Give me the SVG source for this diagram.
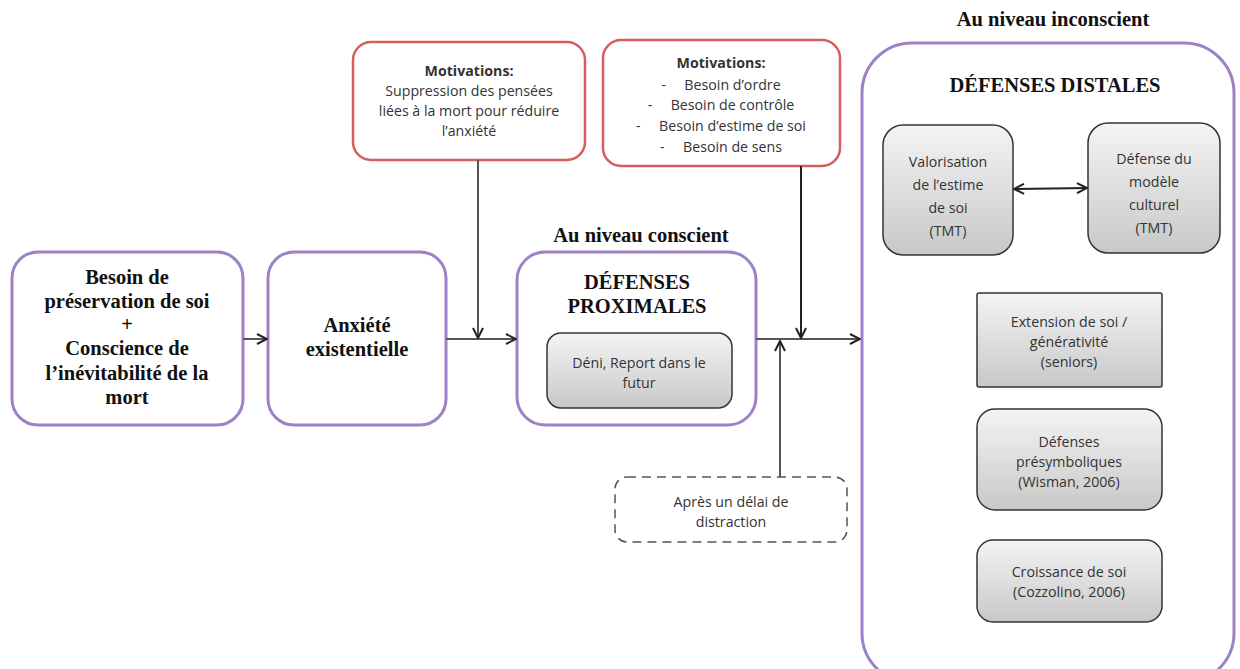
<svg xmlns="http://www.w3.org/2000/svg" width="1240" height="669" viewBox="0 0 1240 669">
<defs>
<linearGradient id="gray" x1="0" y1="0" x2="0" y2="1">
<stop offset="0" stop-color="#f4f4f4"/>
<stop offset="1" stop-color="#c8c8c8"/>
</linearGradient>
<marker id="arr" viewBox="0 0 12 12" refX="11" refY="6" markerWidth="12" markerHeight="12" markerUnits="userSpaceOnUse" orient="auto-start-reverse">
<path d="M1,1 L11,6 L1,11" fill="none" stroke="#222" stroke-width="2"/>
</marker>
<style>
.purple{fill:#fff;stroke:#9d82c6;stroke-width:3}
.red{fill:#fff;stroke:#d45f5c;stroke-width:2.5}
.grayb{fill:url(#gray);stroke:#333;stroke-width:1.5}
.dash{fill:#fff;stroke:#555;stroke-width:1.5;stroke-dasharray:9 6}
.serif{font-family:"Liberation Serif","Times New Roman",serif;font-weight:bold;fill:#111;text-anchor:middle;font-size:20.5px}
.sans{font-family:"Open Sans","Liberation Sans",Arial,sans-serif;fill:#333;text-anchor:middle;font-size:14.2px}
.line{fill:none;stroke:#555;stroke-width:2}
.dark{fill:none;stroke:#222;stroke-width:2}
</style>
</defs>
<rect width="1240" height="669" fill="#fff"/>

<g id="besoin">
<rect class="purple" x="12" y="252" width="231" height="173" rx="26"/>
<text class="serif" x="127" y="284">Besoin de</text>
<text class="serif" x="127" y="308">préservation de soi</text>
<text class="serif" x="127" y="331" font-weight="normal">+</text>
<text class="serif" x="127" y="355">Conscience de</text>
<text class="serif" x="127" y="380">l’inévitabilité de la</text>
<text class="serif" x="127" y="404">mort</text>
</g>

<g id="anxiete">
<rect class="purple" x="268" y="252" width="178" height="173" rx="26"/>
<text class="serif" x="357" y="332">Anxiété</text>
<text class="serif" x="357" y="356">existentielle</text>
</g>

<g id="motiv1">
<rect class="red" x="353" y="42" width="232" height="118" rx="18"/>
<text class="sans" x="469" y="76" font-weight="bold" fill="#222">Motivations:</text>
<text class="sans" x="469" y="96">Suppression des pensées</text>
<text class="sans" x="469" y="116">liées à la mort pour réduire</text>
<text class="sans" x="469" y="136">l’anxiété</text>
</g>

<g id="motiv2">
<rect class="red" x="603" y="40" width="237" height="126" rx="18"/>
<text class="sans" x="721" y="68" font-weight="bold" fill="#222">Motivations:</text>
<text class="sans" x="721" y="90" xml:space="preserve">-     Besoin d’ordre</text>
<text class="sans" x="721" y="110" xml:space="preserve">-     Besoin de contrôle</text>
<text class="sans" x="721" y="131" xml:space="preserve">-     Besoin d’estime de soi</text>
<text class="sans" x="721" y="152" xml:space="preserve">-     Besoin de sens</text>
</g>

<g id="proximales">
<text class="serif" x="641" y="242">Au niveau conscient</text>
<rect class="purple" x="517" y="252" width="239" height="173" rx="28"/>
<text class="serif" x="637" y="289">DÉFENSES</text>
<text class="serif" x="637" y="313">PROXIMALES</text>
</g>

<g id="deni">
<rect class="grayb" x="547" y="333" width="185" height="75" rx="14"/>
<text class="sans" x="639" y="368">Déni, Report dans le</text>
<text class="sans" x="639" y="388">futur</text>
</g>

<g id="delai">
<rect class="dash" x="615" y="477" width="232" height="65" rx="12"/>
<text class="sans" x="731" y="507">Après un délai de</text>
<text class="sans" x="731" y="527">distraction</text>
</g>

<g id="distales">
<text class="serif" x="1053" y="26">Au niveau inconscient</text>
<rect class="purple" x="862" y="43" width="372" height="640" rx="50"/>
<text class="serif" x="1055" y="92">DÉFENSES DISTALES</text>
</g>

<g id="valorisation">
<rect class="grayb" x="883" y="125" width="130" height="130" rx="20"/>
<text class="sans" x="948" y="167">Valorisation</text>
<text class="sans" x="948" y="190">de l’estime</text>
<text class="sans" x="948" y="213">de soi</text>
<text class="sans" x="948" y="236">(TMT)</text>
</g>

<g id="culturel">
<rect class="grayb" x="1088" y="123" width="132" height="130" rx="20"/>
<text class="sans" x="1154" y="164">Défense du</text>
<text class="sans" x="1154" y="187">modèle</text>
<text class="sans" x="1154" y="210">culturel</text>
<text class="sans" x="1154" y="233">(TMT)</text>
</g>

<g id="extension">
<rect class="grayb" x="977" y="293" width="185" height="94" rx="2"/>
<text class="sans" x="1069" y="327">Extension de soi /</text>
<text class="sans" x="1069" y="347">générativité</text>
<text class="sans" x="1069" y="367">(seniors)</text>
</g>

<g id="presymboliques">
<rect class="grayb" x="977" y="409" width="185" height="101" rx="18"/>
<text class="sans" x="1069" y="447">Défenses</text>
<text class="sans" x="1069" y="467">présymboliques</text>
<text class="sans" x="1069" y="487">(Wisman, 2006)</text>
</g>

<g id="croissance">
<rect class="grayb" x="977" y="540" width="185" height="82" rx="16"/>
<text class="sans" x="1069" y="577">Croissance de soi</text>
<text class="sans" x="1069" y="597">(Cozzolino, 2006)</text>
</g>

<g id="connectors">
<line class="line" x1="243" y1="339" x2="267" y2="339" marker-end="url(#arr)"/>
<line class="line" x1="446" y1="339" x2="516" y2="339" marker-end="url(#arr)"/>
<line class="line" x1="478" y1="160" x2="478" y2="338" marker-end="url(#arr)"/>
<line class="line" x1="756" y1="339" x2="860" y2="339" marker-end="url(#arr)"/>
<line class="dark" x1="801" y1="166" x2="801" y2="338" marker-end="url(#arr)"/>
<line class="line" x1="780" y1="477" x2="780" y2="341" marker-end="url(#arr)"/>
<line class="dark" x1="1014" y1="189" x2="1087" y2="188" marker-start="url(#arr)" marker-end="url(#arr)"/>
</g>
</svg>
